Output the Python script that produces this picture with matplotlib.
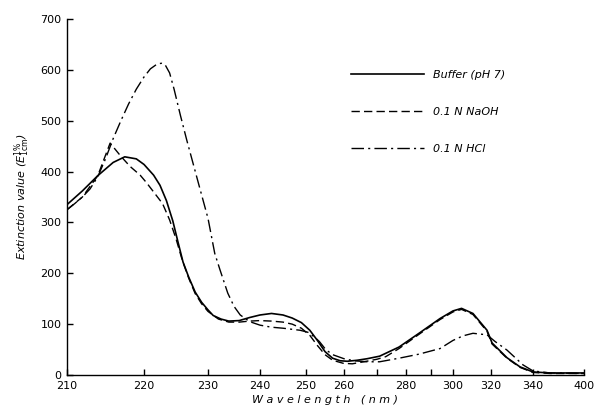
import numpy as np
import matplotlib
matplotlib.use('Agg')
import matplotlib.pyplot as plt

# values (wavelength nm, extinction E 1%/1cm)
buffer_wl = [210, 212, 214, 216, 217.5, 219, 220, 221.5, 222.5, 223.5, 224.5, 225.3, 226.1, 227, 228, 229,
             230, 231, 232.5, 234, 236, 238, 240, 242.5, 245, 247, 249, 251, 253, 255, 257, 259, 261,
             264, 267, 270.9, 277.6, 285.2, 294.1, 300, 304.5, 310.5, 317.9, 320.5, 327.6, 333.8, 340, 360, 400]
buffer_e = [335, 362, 392, 418, 429, 425, 414, 393, 373, 343, 303, 262, 222, 192, 163, 143,
            128, 117, 110, 106, 107, 113, 118, 121, 118, 112, 103, 88, 68, 46, 33, 28, 27,
            29, 32, 37, 55, 82, 111, 126, 131, 121, 88, 63, 34, 16, 6, 4, 4]

naoh_wl = [210, 212, 214, 215.6, 217, 218.2, 219.5, 220.4, 221.5, 222.9, 224, 225, 226, 227, 228, 229,
           230, 232, 234, 236, 238, 240, 242.5, 245, 247, 249, 251, 253, 255, 257, 259.8, 262.5,
           266, 270, 273, 277.6, 285.2, 294.1, 300, 304.5, 310.5, 317.9, 320.5, 327.6, 333.8, 340, 360, 400]
naoh_e = [325, 350, 392, 456, 430, 410, 393, 378, 360, 337, 305, 268, 225, 190, 160, 140,
          125, 110, 104, 104, 106, 107, 106, 104, 100, 92, 78, 58, 40, 29, 23, 22,
          26, 31, 36, 52, 80, 109, 124, 129, 119, 86, 61, 33, 15, 5, 3, 3]

hcl_wl = [210, 211, 212, 213, 214, 215, 216, 217, 218, 219, 220, 221, 222, 222.7, 223.3, 224, 224.7,
          225.7, 226.7, 228.4, 230, 231.3, 232.3, 233.8, 235, 236.2, 238, 240, 242.5, 245, 248.7,
          250.5, 252, 253.5, 255.2, 257, 260, 263, 267, 270.9, 277.6, 285.2, 294.1, 300, 305.3,
          310.5, 317.9, 321.9, 327.6, 335.2, 340, 360, 400]
hcl_e = [325, 337, 350, 366, 390, 425, 465, 500, 533, 562, 586, 602, 611, 613, 610, 594, 562,
         510, 461, 382, 308, 239, 207, 161, 135, 118, 105, 98, 94, 92, 88,
         84, 76, 66, 50, 40, 32, 28, 26, 26, 33, 41, 52, 68, 77,
         82, 79, 66, 49, 20, 8, 4, 3]

# the printed wavelength axis is not linear: tick positions along the axis
tick_wl = [210, 220, 230, 240, 250, 260, 270, 280, 290, 300, 320, 340, 400]
tick_pos = [0, 77, 141, 193, 239, 277, 310, 339, 364, 386, 424, 466, 517]
label_wl = [210, 220, 230, 240, 250, 260, 280, 300, 320, 340, 400]
minor_wl = [270, 290]


def forward(x):
    return np.interp(x, tick_wl, tick_pos)


def inverse(p):
    return np.interp(p, tick_pos, tick_wl)


fig = plt.figure(figsize=(6.0, 4.13), dpi=100)
ax = fig.add_axes([67 / 600, 38 / 413, 517 / 600, 356 / 413])
ax.set_xscale('function', functions=(forward, inverse))

ax.plot(buffer_wl, buffer_e, color='black', lw=1.2, label='Buffer (pH 7)')
ax.plot(naoh_wl, naoh_e, color='black', lw=1.0, dashes=(6, 3), label='0.1 N NaOH')
ax.plot(hcl_wl, hcl_e, color='black', lw=1.0, dashes=(9, 3, 1.5, 3), label='0.1 N HCl')

ax.set_xlim(210, 400)
ax.set_ylim(0, 700)
ax.set_xticks(label_wl)
ax.set_xticklabels([str(w) for w in label_wl])
ax.set_xticks(minor_wl, minor=True)
ax.set_yticks(range(0, 701, 100))

for side in ['top', 'right']:
    ax.spines[side].set_visible(False)
for side in ['left', 'bottom']:
    ax.spines[side].set_linewidth(1.0)
ax.tick_params(which='both', direction='in', length=4, width=1.0, labelsize=8, pad=4)

ax.set_xlabel('W a v e l e n g t h   ( n m )', fontsize=8, fontstyle='italic', labelpad=3)
ax.set_ylabel(r'Extinction value (E$^{\rm 1\%}_{\rm 1cm}$)', fontsize=8, fontstyle='italic', labelpad=6)

leg = ax.legend(loc='upper left', bbox_to_anchor=(0.53, 0.885), frameon=False, fontsize=8,
                handlelength=6.6, handletextpad=0.8, labelspacing=2.45)
for t in leg.get_texts():
    t.set_fontstyle('italic')

fig.savefig('out.png', dpi=100)
